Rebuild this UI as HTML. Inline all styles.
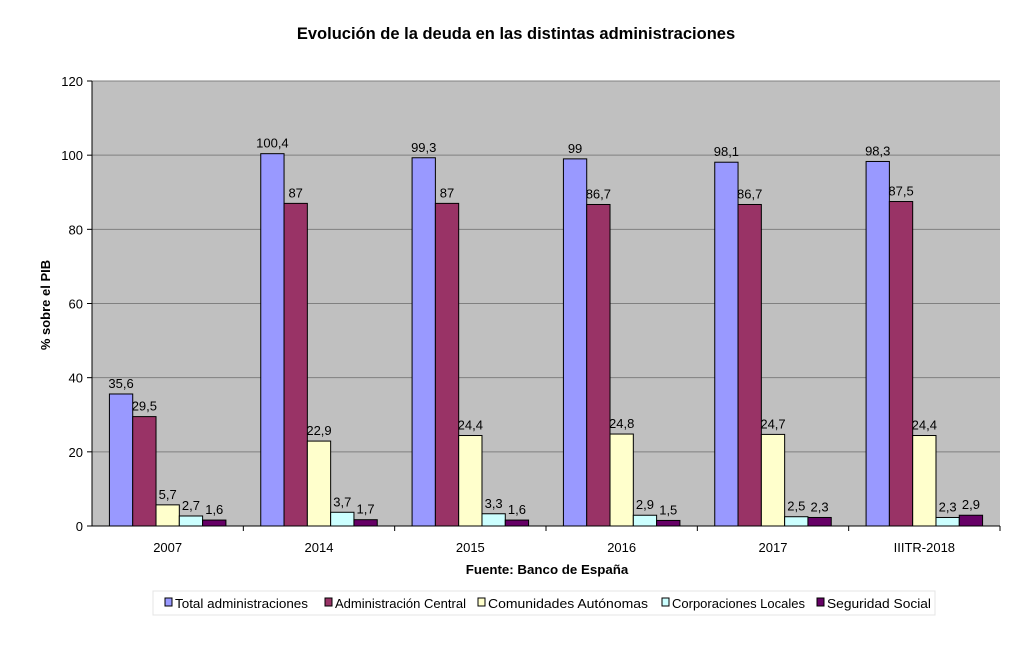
<!DOCTYPE html>
<html><head><meta charset="utf-8"><style>
body{margin:0;background:#fff;font-family:"Liberation Sans",Arial,sans-serif}
svg text{font-family:"Liberation Sans",Arial,sans-serif}
</style></head><body>
<svg id="chart" width="1017" height="640" xmlns="http://www.w3.org/2000/svg">
<text x="516" y="39" text-anchor="middle" font-size="16.5" font-weight="bold">Evolución de la deuda en las distintas administraciones</text>
<rect x="92" y="81" width="908" height="445" fill="#c0c0c0"/>
<g id="grid"></g><g id="bars"></g><g id="axes"></g>
<text transform="translate(50,305) rotate(-90)" text-anchor="middle" font-size="13" font-weight="bold">% sobre el PIB</text>
<text x="547" y="574" text-anchor="middle" font-size="13.3" font-weight="bold">Fuente: Banco de España</text>
<g id="legend"></g>
</svg>
<script>
const categories=["2007","2014","2015","2016","2017","IIITR-2018"];
const seriesNames=["Total administraciones","Administración Central","Comunidades Autónomas","Corporaciones Locales","Seguridad Social"];
const total=[35.6,100.4,99.3,99,98.1,98.3];
const central=[29.5,87,87,86.7,86.7,87.5];
const autonomas=[5.7,22.9,24.4,24.8,24.7,24.4];
const locales=[2.7,3.7,3.3,2.9,2.5,2.3];
const seguridad=[1.6,1.7,1.6,1.5,2.3,2.9];
const yTicks=[0,20,40,60,80,100,120];
const series=[total,central,autonomas,locales,seguridad];
const colors=["#9999ff","#993366","#ffffcc","#ccffff","#660066"];
const NS="http://www.w3.org/2000/svg";
const X0=92,X1=1000,Y0=526,Y1=81,YMAX=120;
const y=v=>Y0-(v/YMAX)*(Y0-Y1);
const gw=(X1-X0)/categories.length,bw=23.3,off=(gw-bw*5)/2;
const fmt=v=>String(v).replace('.',',');
function el(t,a,p){const e=document.createElementNS(NS,t);for(const k in a)e.setAttribute(k,a[k]);p.appendChild(e);return e;}
const grid=document.getElementById('grid'),axes=document.getElementById('axes'),bars=document.getElementById('bars');
yTicks.forEach(t=>{
 const l=el('line',{x1:X0,x2:X1,y1:y(t),y2:y(t),stroke:'#808080','stroke-width':1},grid);
 
 
 el('line',{x1:X0-5,x2:X0,y1:y(t),y2:y(t),stroke:'#000'},axes);
 const tx=el('text',{x:X0-9,y:y(t)+5,'text-anchor':'end','font-size':13},axes);tx.textContent=t;
 
 
});
el('line',{x1:X0,x2:X0,y1:Y1,y2:Y0,stroke:'#000'},axes);
el('line',{x1:X0,x2:X1,y1:Y0,y2:Y0,stroke:'#000'},axes);
categories.forEach((c,i)=>{
 const gx=X0+i*gw;
 el('line',{x1:gx+gw,x2:gx+gw,y1:Y0,y2:Y0+5,stroke:'#000'},axes);
 const tx=el('text',{x:gx+gw/2,y:Y0+26,'text-anchor':'middle','font-size':13},axes);tx.textContent=c;
 
 
 series.forEach((s,j)=>{
  const bx=gx+off+j*bw,v=s[i];
  const r=el('rect',{x:bx,y:y(v),width:bw,height:Y0-y(v),fill:colors[j],stroke:'#000','stroke-width':1},bars);
  
  
  const lt=el('text',{x:bx+bw/2,y:y(v)-6,'text-anchor':'middle','font-size':13},bars);lt.textContent=fmt(v);
  
  
 });
});
const lg=document.getElementById('legend');
const lb=el('rect',{x:153,y:591,width:782,height:24,fill:'#fff',stroke:'#e4e4e4'},lg);


const lx=[165,325,478,662,817];
const lw=[133,131,160,133,104];
seriesNames.forEach((n,j)=>{
 const g=el('g',{},lg);
 
 
 el('rect',{x:lx[j],y:598,width:7,height:8,fill:colors[j],stroke:'#000'},g);
 const t=el('text',{x:lx[j]+10,y:608,'font-size':13,textLength:lw[j],lengthAdjust:'spacingAndGlyphs'},g);t.textContent=n;
});
</script>
</body></html>
